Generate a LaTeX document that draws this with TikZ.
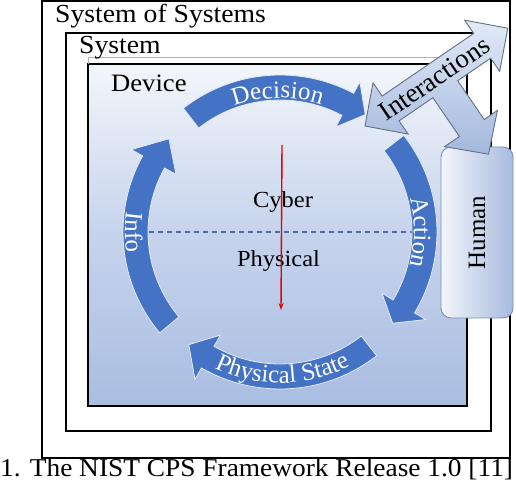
\documentclass[tikz,border=0pt]{standalone}
\usepackage{fontspec}
\setmainfont{Liberation Serif}
\usepackage{graphicx}
\usetikzlibrary{decorations.text,arrows.meta}
\definecolor{cycblue}{HTML}{4472C4}
\definecolor{devtop}{HTML}{F3F6FB}
\definecolor{devmid}{HTML}{C6D3EC}
\definecolor{devbot}{HTML}{A9BDE2}
\definecolor{intlight}{HTML}{E2EAF7}
\definecolor{intdark}{HTML}{A3B8DC}
\definecolor{intline}{HTML}{667389}
\definecolor{humlight}{HTML}{F2F5FB}
\definecolor{humdark}{HTML}{A8BBDF}
\definecolor{humline}{HTML}{7D8FAE}
\definecolor{dashblue}{HTML}{4A6DB0}
\newcommand\hs[1]{\scalebox{1.065}[1]{#1}}
\newcommand\fs[1]{\fontsize{#1}{#1}\selectfont}
\newcommand\arcfont{\fontsize{25}{25}\selectfont\color{white}}
% #1 tail angle, #2 head base angle, #3 tip angle
\newcommand\cyclearrow[3]{%
  \filldraw[cyc] (#1:157) arc[start angle=#1, end angle=#2, radius=157]
    -- (#2:170) -- (#3:145) -- (#2:119) -- (#2:132)
    arc[start angle=#2, end angle=#1, radius=132] -- cycle;}
\begin{document}
\begin{tikzpicture}[x=1pt,y=1pt,
  frame/.style={draw=black, line width=2pt},
  boxlabel/.style={inner sep=0pt, anchor=base west, font=\fs{26}},
  cyc/.style={fill=cycblue, draw=white!85!cycblue, line width=0.8pt},
  arctext/.style={decorate, decoration={text along path, text align=center, text={|\arcfont|#1}}},
  intarrow/.style={top color=intlight, bottom color=intdark, draw=intline, line width=0.9pt, line join=miter},
  humanbox/.style={left color=humlight, right color=humdark, draw=humline, line width=0.9pt, rounded corners=10pt}]
\useasboundingbox (0,0) rectangle (516,494);

% nested frames
\draw[frame] (42,492.5) rectangle (510,36);
\draw[frame] (66,461) rectangle (491,63);
\draw[frame, top color=devtop, bottom color=devbot, middle color=devmid] (88,430) rectangle (467,88);
\draw[gray!60, line width=0.8pt] (88,430) -- (88,437) -- (467,437) -- (467,430);

\node[boxlabel] (sos) at (55,471) {\hs{System of Systems}};
\node[boxlabel] (sys) at (79,440) {\hs{System}};
\node[boxlabel, font=\fs{25}] (dev) at (111,402) {\hs{Device}};

% cyber / physical divider
\coordinate (dashL) at (140,262);
\coordinate (dashR) at (416,262);
\draw[dashblue, line width=1.2pt, dash pattern=on 5pt off 4pt] (dashL) -- (dashR);

% cycle arrows
\begin{scope}[shift={(280,262)}]
  \cyclearrow{128}{62}{54}
  \cyclearrow{38}{-31}{-39}
  \cyclearrow{-52}{-120}{-129}
  \cyclearrow{220}{151}{140}
  \path[arctext={Decision}] (128:134) arc[start angle=128, end angle=54, radius=134];
  \path[arctext={Action}] (38:134) arc[start angle=38, end angle=-38, radius=134];
  \path[arctext={Physical State}] (-130:151) arc[start angle=-130, end angle=-48, radius=151];
  \path[arctext={Info}] (140:155) arc[start angle=140, end angle=220, radius=155];
\end{scope}

\node[inner sep=0pt, anchor=base, font=\fs{23}] (cyber) at (283,286) {\hs{Cyber}};
\node[inner sep=0pt, anchor=base, font=\fs{23}] (physical) at (278.5,227) {\hs{Physical}};

\coordinate (redtop) at (282,349);
\coordinate (redbot) at (281,184);
\draw[red!90!black, line width=1.4pt, -{Stealth[length=7pt,width=5pt]}] (redtop) -- (redbot);

% human
\node[humanbox, minimum width=72pt, minimum height=171pt, inner sep=0pt] (human) at (477,261.5) {};
\node[rotate=90, inner sep=0pt, font=\fs{25}] (humanlabel) at (human.center) {Human};

% interactions arrow
\begin{scope}[shift={(365,368)}, rotate=34.4]
  \filldraw[intarrow] (0,0) -- (31,31) -- (31,15) -- (142,15) -- (142,31) -- (173,0)
    -- (142,-31) -- (142,-15) -- (102,-15) -- (102,-62) -- (118,-62) -- (86,-93)
    -- (54,-62) -- (72,-62) -- (72,-15) -- (31,-15) -- (31,-31) -- cycle;
  \node[transform shape, inner sep=0pt, font=\fs{27}] (interactions) at (84,0) {Interactions};
\end{scope}

% caption
\node[inner sep=0pt, anchor=base west, font=\fs{25.7}] (caption) at (0,17) {\hs{1. The NIST CPS Framework Release 1.0 [11]}};
\end{tikzpicture}
\end{document}
